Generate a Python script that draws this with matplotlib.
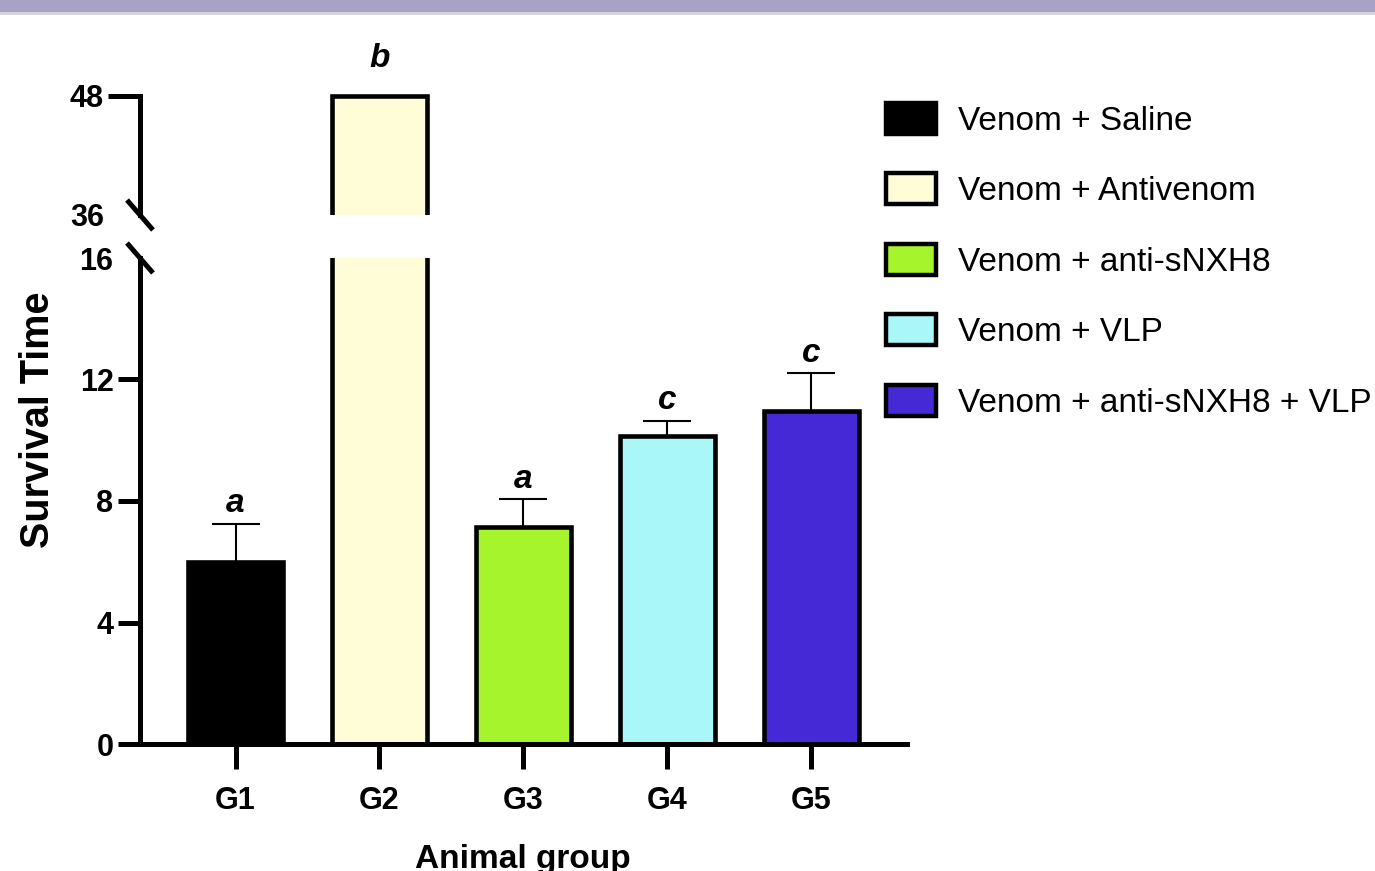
import matplotlib
matplotlib.use("Agg")
import matplotlib.pyplot as plt
from matplotlib.patches import Rectangle
from matplotlib.lines import Line2D
from matplotlib import font_manager
import numpy as np

# ---------------- data ----------------
groups = ["G1", "G2", "G3", "G4", "G5"]
treatments = ["Venom + Saline", "Venom + Antivenom", "Venom + anti-sNXH8",
              "Venom + VLP", "Venom + anti-sNXH8 + VLP"]
survival_mean = [6.0, 48.0, 7.15, 10.15, 10.95]
survival_sem = [1.25, 0.0, 0.9, 0.5, 1.25]
sig_letters = ["a", "b", "a", "c", "c"]
bar_colors = ["#000000", "#FFFDD8", "#A6F52C", "#AAF7FA", "#4529D6"]
lower_ticks = [0, 4, 8, 12, 16]
upper_ticks = [36, 48]
ylabel = "Survival Time"
xlabel = "Animal group"

plt.rcParams['font.family'] = ['Liberation Sans', 'DejaVu Sans']
installed = {f.name for f in font_manager.fontManager.ttflist}
narrow = "Liberation Sans Narrow" if "Liberation Sans Narrow" in installed else "Liberation Sans"
ytick_fs = 25 if narrow == "Liberation Sans Narrow" else 22

W, H = 1375, 871
fig = plt.figure(figsize=(W / 100, H / 100), dpi=100)

def fx(px):
    return px / W

def fy(py):
    return 1 - py / H

# top band
fig.patches.append(Rectangle((0, fy(12)), 1, 12 / H, transform=fig.transFigure,
                             facecolor="#a8a3c5", edgecolor="none", zorder=0))
fig.patches.append(Rectangle((0, fy(15)), 1, 3 / H, transform=fig.transFigure,
                             facecolor="#d6d4df", edgecolor="none", zorder=0))

left, right = 140, 907
ax_lo = fig.add_axes([fx(left), fy(744), fx(right - left), (744 - 258) / H])
ax_hi = fig.add_axes([fx(left), fy(215), fx(right - left), (215 - 92) / H])

x = np.arange(len(groups))
bw = 0.66
edge_lw = 3.3
spine_lw = 3.6

for ax in (ax_lo, ax_hi):
    ax.bar(x, survival_mean, width=bw, color=bar_colors, edgecolor="black",
           linewidth=edge_lw, zorder=3)
    ax.set_xlim(-0.664, 4.667)
    for s in ("top", "right"):
        ax.spines[s].set_visible(False)
    ax.spines["left"].set_linewidth(spine_lw)
    ax.spines["bottom"].set_linewidth(spine_lw)
    ax.patch.set_alpha(0)

ax_lo.tick_params(axis="y", length=16, width=spine_lw, pad=3)
ax_hi.tick_params(axis="y", length=23, width=spine_lw, pad=3)

# lower axis
ax_lo.set_ylim(0, 16)
ax_lo.set_yticks(lower_ticks)
ax_lo.set_yticklabels([str(t) for t in lower_ticks], fontweight="bold",
                      fontsize=ytick_fs, family=[narrow, "DejaVu Sans"])
ax_lo.yaxis.get_major_ticks()[-1].tick1line.set_visible(False)
ax_lo.set_xticks(x)
ax_lo.set_xticklabels(groups, fontweight="bold", fontsize=22)
ax_lo.tick_params(axis="x", length=18, width=spine_lw, pad=12)
ax_lo.spines["bottom"].set_zorder(5)

err_lo = np.zeros(len(groups))
ax_lo.errorbar(x, survival_mean, yerr=[err_lo, survival_sem], fmt="none",
               ecolor="black", elinewidth=1.5, capsize=17, capthick=1.5,
               zorder=2)

# upper axis
ax_hi.set_ylim(36, 48.4)
ax_hi.spines["left"].set_bounds(36, 48)
ax_hi.spines["bottom"].set_visible(False)
ax_hi.set_yticks(upper_ticks)
ax_hi.set_yticklabels([str(t) for t in upper_ticks], fontweight="bold",
                      fontsize=ytick_fs, family=[narrow, "DejaVu Sans"])
ax_hi.yaxis.get_major_ticks()[0].tick1line.set_visible(False)
ax_hi.set_xticks([])

# significance letters
for i, (m, e, let) in enumerate(zip(survival_mean, survival_sem, sig_letters)):
    top = m + e
    ax = ax_hi if top > 16 else ax_lo
    pad = 8.5 if e > 0 else 21
    ax.annotate(let, (x[i], top), xytext=(0, pad), textcoords="offset points",
                ha="center", va="baseline", fontsize=24, fontweight="bold",
                fontstyle="italic", annotation_clip=False)

# break marks
for (cx, cy) in [(140, 215), (140, 258)]:
    fig.add_artist(Line2D([fx(cx - 13), fx(cx + 13)], [fy(cy - 15), fy(cy + 15)],
                          transform=fig.transFigure, color="black",
                          linewidth=3.6, solid_capstyle="butt"))

# axis labels
fig.text(fx(38), fy(420), ylabel, rotation=90, ha="center", va="center",
         fontsize=28.5, fontweight="bold")
fig.text(fx(523), fy(868), xlabel, ha="center", va="baseline",
         fontsize=24, fontweight="bold")

# legend
fs = 24
fs_px = fs * 100 / 72
handles = [Rectangle((0, 0), 1, 1, facecolor=c, edgecolor="black", linewidth=3.2)
           for c in bar_colors]
fig.legend(handles, treatments, loc="upper left",
           bbox_to_anchor=(fx(886), fy(103)), bbox_transform=fig.transFigure,
           frameon=False, fontsize=fs, borderpad=0, borderaxespad=0,
           handlelength=50 / fs_px, handleheight=35 / fs_px,
           handletextpad=22 / fs_px, labelspacing=1.1)

fig.savefig("out.png", dpi=100)
